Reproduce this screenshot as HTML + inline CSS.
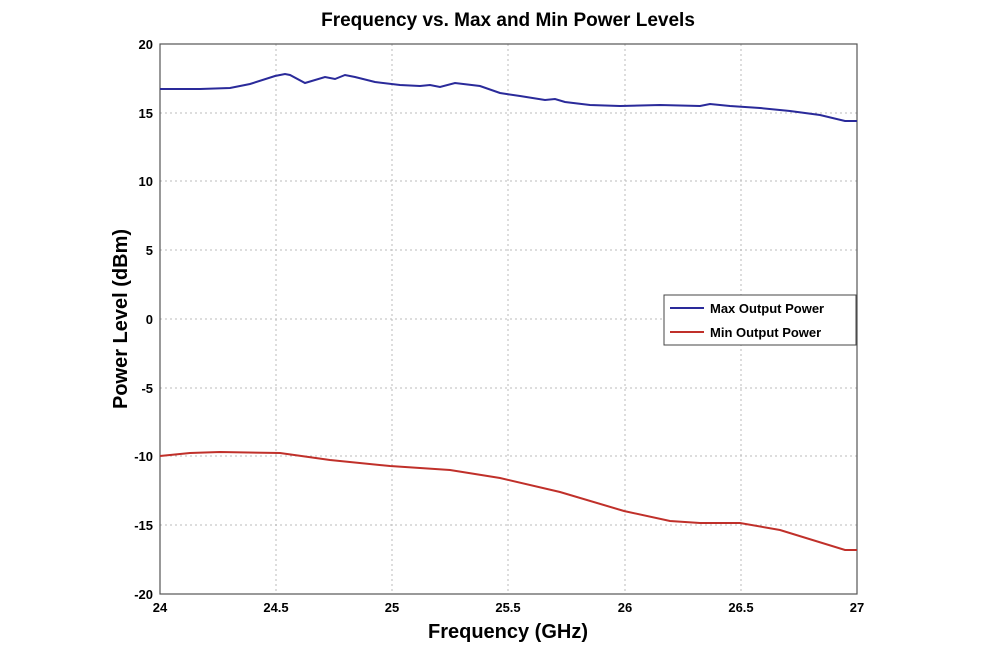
<!DOCTYPE html>
<html><head><style>body{margin:0;background:#fff}</style></head><body>
<svg width="1000" height="667" xmlns="http://www.w3.org/2000/svg" font-family="Liberation Sans, sans-serif">
<rect width="1000" height="667" fill="#fff"/>
<text x="508" y="26" text-anchor="middle" font-size="19" font-weight="bold">Frequency vs. Max and Min Power Levels</text>
<g stroke="#bbb" stroke-dasharray="2,3" stroke-width="1">
<line x1="276" y1="44" x2="276" y2="594"/><line x1="392" y1="44" x2="392" y2="594"/><line x1="508" y1="44" x2="508" y2="594"/><line x1="625" y1="44" x2="625" y2="594"/><line x1="741" y1="44" x2="741" y2="594"/>
<line x1="160" y1="113" x2="857" y2="113"/><line x1="160" y1="181" x2="857" y2="181"/><line x1="160" y1="250" x2="857" y2="250"/><line x1="160" y1="319" x2="857" y2="319"/><line x1="160" y1="388" x2="857" y2="388"/><line x1="160" y1="456" x2="857" y2="456"/><line x1="160" y1="525" x2="857" y2="525"/>
</g>
<rect x="160" y="44" width="697" height="550" fill="none" stroke="#555" stroke-width="1.2"/>
<g font-size="13" font-weight="bold" text-anchor="end">
<text x="153" y="49">20</text><text x="153" y="118">15</text><text x="153" y="186">10</text><text x="153" y="255">5</text><text x="153" y="324">0</text><text x="153" y="393">-5</text><text x="153" y="461">-10</text><text x="153" y="530">-15</text><text x="153" y="599">-20</text>
</g>
<g font-size="13" font-weight="bold" text-anchor="middle">
<text x="160" y="612">24</text><text x="276" y="612">24.5</text><text x="392" y="612">25</text><text x="508" y="612">25.5</text><text x="625" y="612">26</text><text x="741" y="612">26.5</text><text x="857" y="612">27</text>
</g>
<text x="508" y="638" text-anchor="middle" font-size="20" font-weight="bold">Frequency (GHz)</text>
<text transform="translate(127,319) rotate(-90)" text-anchor="middle" font-size="20" font-weight="bold">Power Level (dBm)</text>
<polyline fill="none" stroke="#2a2a9a" stroke-width="2" points="160,89 200,89 230,88 250,84 275,76 285,74 290,75 305,83 325,77 335,79 345,75 355,77 375,82 400,85 420,86 430,85 440,87 455,83 480,86 500,93 520,96 545,100 555,99 565,102 590,105 620,106 660,105 700,106 710,104 730,106 760,108 790,111 820,115 845,121 857,121"/>
<polyline fill="none" stroke="#c0302a" stroke-width="2" points="160,456 190,453 220,452 280,453 330,460 390,466 450,470 500,478 560,492 624,511 670,521 700,523 740,523 780,530 845,550 857,550"/>
<rect x="664" y="295" width="192" height="50" fill="#fff" stroke="#444"/>
<line x1="670" y1="308" x2="704" y2="308" stroke="#2a2a9a" stroke-width="2"/>
<line x1="670" y1="332" x2="704" y2="332" stroke="#c0302a" stroke-width="2"/>
<text x="710" y="313" font-size="13" font-weight="bold">Max Output Power</text>
<text x="710" y="337" font-size="13" font-weight="bold">Min Output Power</text>
</svg>
</body></html>
